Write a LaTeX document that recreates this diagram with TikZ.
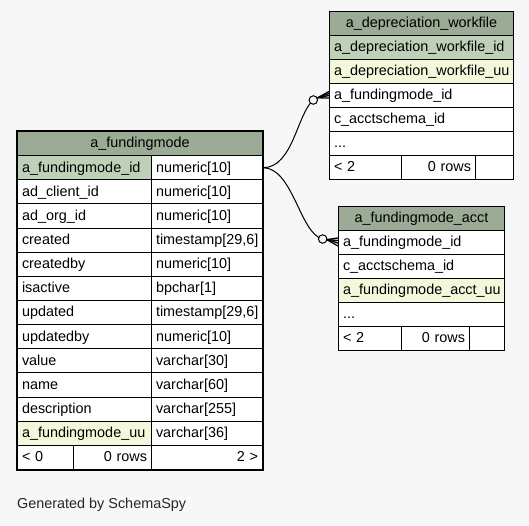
\documentclass[tikz,border=0pt]{standalone}
\usepackage{fontspec}
\setmainfont{Liberation Sans}
\usetikzlibrary{calc}
\definecolor{bg}{HTML}{F7F7F7}
\definecolor{hdr}{HTML}{9BAB96}
\definecolor{pkc}{HTML}{BED1B8}
\definecolor{uuc}{HTML}{F4F7DA}
\newcommand\mkcell[8]{%
  \pgfmathsetmacro\cellTW{#4-9}%
  \node[cellbox, fill=#6, align=#7, text width=\cellTW pt, minimum height=#5pt, anchor=north west] (#1) at (#2,#3) {#8};}
\tikzset{
  cellbox/.style={draw=black, line width=1pt, inner xsep=4.5pt, inner ysep=0pt,
    text height=9.6pt, text depth=0.8pt, font=\fontsize{14.4}{16}\selectfont},
  conn/.style={draw=black, line width=1pt},
  opencirc/.style={circle, draw=black, line width=1pt, fill=bg, minimum size=8.5pt, inner sep=0pt},
}
\begin{document}
\begin{tikzpicture}[x=1pt,y=-1pt]
\fill[bg] (0,0) rectangle (529,525);
\useasboundingbox (0,0) rectangle (529,525);
% ---------- main table a_fundingmode
\def\rh{24.14}
\mkcell{mh}{17}{131}{245}{\rh}{hdr}{center}{a\_fundingmode}
\foreach \i/\n/\t/\f in {1/a\_fundingmode\_id/numeric[10]/pkc,
  2/ad\_client\_id/numeric[10]/white,
  3/ad\_org\_id/numeric[10]/white,
  4/created/{timestamp[29,6]}/white,
  5/createdby/numeric[10]/white,
  6/isactive/bpchar[1]/white,
  7/updated/{timestamp[29,6]}/white,
  8/updatedby/numeric[10]/white,
  9/value/varchar[30]/white,
  10/name/varchar[60]/white,
  11/description/varchar[255]/white,
  12/a\_fundingmode\_uu/varchar[36]/uuc}{
  \pgfmathsetmacro\yy{131+\rh*\i}
  \mkcell{m\i n}{17}{\yy}{134}{\rh}{\f}{left}{\n}
  \mkcell{m\i t}{151}{\yy}{111}{\rh}{white}{left}{\t}
}
\pgfmathsetmacro\yf{131+\rh*13}
\mkcell{mf1}{17}{\yf}{56}{\rh}{white}{left}{< 0}
\mkcell{mf2}{73}{\yf}{78}{\rh}{white}{right}{0 rows}
\mkcell{mf3}{151}{\yf}{111}{\rh}{white}{right}{2 >}
\draw[line width=2.6pt] (mh.north west) rectangle (mf3.south east);
% ---------- a_depreciation_workfile
\mkcell{dh}{329}{10.5}{184}{24}{hdr}{center}{a\_depreciation\_workfile}
\mkcell{d1}{329}{34.5}{184}{24}{pkc}{left}{a\_depreciation\_workfile\_id}
\mkcell{d2}{329}{58.5}{184}{24}{uuc}{left}{a\_depreciation\_workfile\_uu}
\mkcell{d3}{329}{82.5}{184}{24}{white}{left}{a\_fundingmode\_id}
\mkcell{d4}{329}{106.5}{184}{24}{white}{left}{c\_acctschema\_id}
\mkcell{d5}{329}{130.5}{184}{24}{white}{left}{...}
\mkcell{df1}{329}{154.5}{72}{24}{white}{left}{< 2}
\mkcell{df2}{401}{154.5}{74}{24}{white}{right}{0 rows}
\mkcell{df3}{475}{154.5}{38}{24}{white}{right}{}
% ---------- a_fundingmode_acct
\mkcell{ah}{338}{206}{166}{24}{hdr}{center}{a\_fundingmode\_acct}
\mkcell{a1}{338}{230}{166}{24}{white}{left}{a\_fundingmode\_id}
\mkcell{a2}{338}{254}{166}{24}{white}{left}{c\_acctschema\_id}
\mkcell{a3}{338}{278}{166}{24}{uuc}{left}{a\_fundingmode\_acct\_uu}
\mkcell{a4}{338}{302}{166}{24}{white}{left}{...}
\mkcell{af1}{338}{326}{63}{24}{white}{left}{< 2}
\mkcell{af2}{401}{326}{68}{24}{white}{right}{0 rows}
\mkcell{af3}{469}{326}{35}{24}{white}{right}{}
% ---------- connectors
\coordinate (k1) at (317.6,97.8);
\coordinate (k2) at (326.8,239.6);
\draw[conn] (m1t.east) .. controls +(30,0) and (297,114) .. (313.3,100);
\draw[conn] (m1t.east) .. controls +(30,0) and (300,234) .. (322.7,239);
\node[opencirc] (c1) at (313.3,100) {};
\node[opencirc] (c2) at (322.7,239) {};
\draw[conn] (c1) -- (k1);
\draw[conn] (c2) -- (k2);
\draw[conn, line width=1.3pt] (k1) -- ($(d3.west)+(0,-3.5)$);
\draw[conn, line width=1.3pt] (k1) -- ($(d3.west)+(0,-1.5)$);
\draw[conn, line width=1.3pt] (k1) -- ($(d3.west)+(0,0.5)$);
\draw[conn, line width=1.3pt] (k1) -- ($(d3.west)+(0,3)$);
\draw[conn, line width=1.3pt] (k2) -- ($(a1.west)+(0,-4.5)$);
\draw[conn, line width=1.3pt] (k2) -- ($(a1.west)+(0,-2)$);
\draw[conn, line width=1.3pt] (k2) -- ($(a1.west)+(0,0.5)$);
\draw[conn, line width=1.3pt] (k2) -- ($(a1.west)+(0,3.5)$);
% ---------- footer text
\node[anchor=west, inner sep=0pt, font=\fontsize{14.4}{16}\selectfont, text=black!85] (gen) at (17,505) {Generated by SchemaSpy};
\end{tikzpicture}
\end{document}
